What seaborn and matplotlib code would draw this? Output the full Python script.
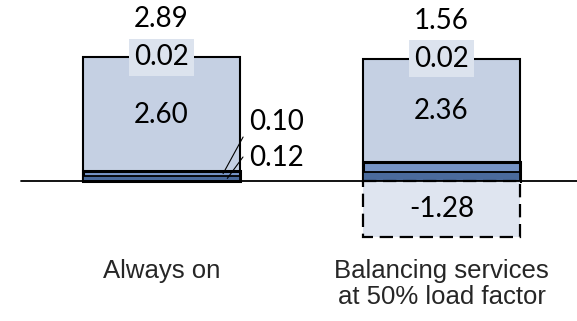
import matplotlib
matplotlib.use("Agg")
import matplotlib.pyplot as plt
import seaborn as sns
import pandas as pd

# ---- data ----
categories = ["Always on", "Balancing services\nat 50% load factor"]
dark_vals = [0.12, 0.21]
medium_vals = [0.10, 0.22]
main_vals = [2.60, 2.36]
top_vals = [0.02, 0.02]
negative_vals = [None, -1.28]
total_labels = ["2.89", "1.56"]

# ---- colours ----
c_light = "#C5D0E3"
c_box = "#DCE3EE"
c_medium = "#7694C6"
c_dark = "#4A6A9C"
c_neg = "#DFE5F0"

sns.set_theme(style="white")
plt.rcParams["font.family"] = ["Lato", "DejaVu Sans"]

W, H = 577, 321
fig = plt.figure(figsize=(W / 100, H / 100), dpi=100)
ax = fig.add_axes([0, 0, 1, 1])

cum_dark = list(dark_vals)
cum_med = [d + m for d, m in zip(dark_vals, medium_vals)]
cum_main = [c + s for c, s in zip(cum_med, main_vals)]
cum_top = [c + t for c, t in zip(cum_main, top_vals)]

df = pd.DataFrame({"category": categories, "light": cum_top,
                   "medium": cum_med, "dark": cum_dark})
bw = 0.56
common = dict(x="category", saturation=1, width=bw, errorbar=None,
              order=categories, ax=ax, edgecolor="black")

sns.barplot(data=df, y="light", color=c_light, linewidth=1.5, **common)
sns.barplot(data=df, y="medium", color=c_medium, linewidth=2.2, **common)
sns.barplot(data=df, y="dark", color=c_dark, linewidth=1.3, **common)

neg_df = pd.DataFrame({"category": [c for c, v in zip(categories, negative_vals) if v is not None],
                       "neg": [v for v in negative_vals if v is not None]})
sns.barplot(data=neg_df, y="neg", color=c_neg, linewidth=1.6,
            linestyle=(0, (6, 3)), **common)

ax.axhline(0, xmin=21 / W, xmax=1, color="black", lw=1.3, zorder=5)

ax.set_xlim(-161.5 / 280, (W - 161.5) / 280)
ppu = 43.5
ax.set_ylim(-(H - 181) / ppu, 181 / ppu)
ax.set_axis_off()

vfont = dict(fontsize=20, family=["Lato", "DejaVu Sans"], color="black")

for i in range(len(categories)):
    # main value
    ax.text(i, cum_med[i] + main_vals[i] / 2, f"{main_vals[i]:.2f}",
            ha="center", va="center", **vfont)
    # small top value in a box
    ax.text(i, cum_top[i], f"{top_vals[i]:.2f}", ha="center", va="center",
            zorder=6, bbox=dict(boxstyle="square,pad=0.2", fc=c_box, ec="none"),
            **vfont)
    # total
    ax.annotate(total_labels[i], xy=(i, cum_top[i]), xytext=(0, 38),
                textcoords="offset pixels", ha="center", va="center", **vfont)
    # negative
    if negative_vals[i] is not None:
        ax.text(i, negative_vals[i] / 2, f"{negative_vals[i]:.2f}",
                ha="center", va="center", **vfont)
    # category label
    ax.text(i, -1.79, categories[i], ha="center", va="top", fontsize=18.5,
            family=["Liberation Sans", "DejaVu Sans"], linespacing=1.1)

# leader-line labels for the small segments of the first bar
xm = 0 + bw / 2 - 0.06
ax.annotate("", xy=(xm, dark_vals[0] + medium_vals[0] / 2), xytext=(20, 36.6),
            textcoords="offset pixels",
            arrowprops=dict(arrowstyle="-", lw=0.8, color="black", shrinkA=0, shrinkB=0))
ax.annotate(f"{medium_vals[0]:.2f}", xy=(xm, dark_vals[0] + medium_vals[0] / 2),
            xytext=(26, 51.6), textcoords="offset pixels", ha="left", va="center", **vfont)
xd = 0 + bw / 2 - 0.045
ax.annotate("", xy=(xd, dark_vals[0] / 2), xytext=(15.7, 21.4),
            textcoords="offset pixels",
            arrowprops=dict(arrowstyle="-", lw=0.8, color="black", shrinkA=0, shrinkB=0))
ax.annotate(f"{dark_vals[0]:.2f}", xy=(xd, dark_vals[0] / 2),
            xytext=(21.7, 20.4), textcoords="offset pixels", ha="left", va="center", **vfont)

fig.savefig("out.png", dpi=100, facecolor="white")
